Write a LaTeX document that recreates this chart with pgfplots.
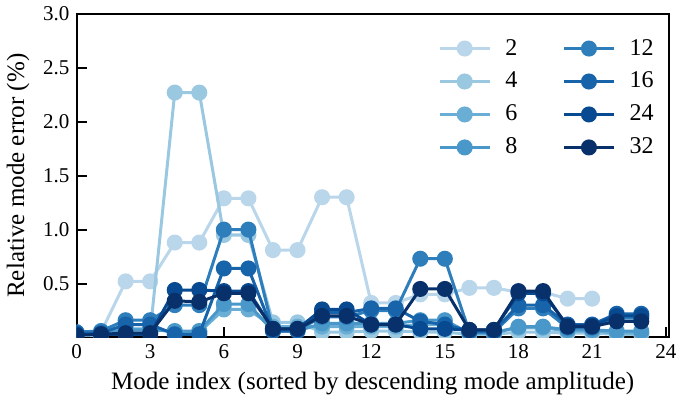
\documentclass[border=0pt]{standalone}
\usepackage{fontspec}
\setmainfont{Liberation Serif}
\usepackage{pgfplots}
\usepackage{pgfplotstable}
\pgfplotsset{compat=1.18}

\definecolor{b2}{HTML}{BAD6EB}
\definecolor{b4}{HTML}{9AC8E0}
\definecolor{b6}{HTML}{6AAED6}
\definecolor{b8}{HTML}{4A98C9}
\definecolor{b12}{HTML}{2E7EBC}
\definecolor{b16}{HTML}{1764AB}
\definecolor{b24}{HTML}{084A91}
\definecolor{b32}{HTML}{08306B}

% relative mode error (%) per mode index, one column per run
\pgfplotstableread{
i  s2    s4    s6    s8    s12   s16   s24   s32
0  0.04  0.02  0.03  0.03  0.05  0.04  0.03  0.02
1  0.05  0.02  0.03  0.03  0.06  0.04  0.03  0.03
2  0.52  0.05  0.08  0.07  0.16  0.12  0.03  0.04
3  0.52  0.05  0.08  0.07  0.16  0.12  0.03  0.04
4  0.88  2.27  0.05  0.06  0.30  0.03  0.44  0.34
5  0.88  2.27  0.05  0.06  0.30  0.03  0.44  0.33
6  1.29  0.95  0.26  0.31  1.00  0.64  0.43  0.41
7  1.29  0.95  0.26  0.31  1.00  0.64  0.43  0.41
8  0.81  0.14  0.10  0.06  0.07  0.06  0.08  0.08
9  0.81  0.14  0.10  0.06  0.07  0.06  0.08  0.08
10 1.30  0.05  0.10  0.13  0.19  0.23  0.26  0.20
11 1.30  0.05  0.10  0.13  0.19  0.23  0.26  0.20
12 0.32  0.06  0.10  0.13  0.25  0.27  0.12  0.12
13 0.32  0.06  0.10  0.13  0.25  0.27  0.12  0.12
14 0.40  0.05  0.12  0.16  0.73  0.15  0.08  0.45
15 0.40  0.05  0.12  0.16  0.73  0.12  0.08  0.45
16 0.46  0.03  0.05  0.04  0.05  0.06  0.07  0.07
17 0.46  0.03  0.05  0.04  0.05  0.06  0.07  0.07
18 0.42  0.05  0.09  0.10  0.27  0.30  0.41  0.43
19 0.42  0.05  0.09  0.10  0.27  0.30  0.41  0.43
20 0.36  0.04  0.06  0.07  0.09  0.12  0.11  0.10
21 0.36  0.04  0.06  0.07  0.09  0.12  0.11  0.10
22 nan   0.03  0.04  0.06  0.18  0.22  0.20  0.15
23 nan   0.03  0.04  0.06  0.18  0.22  0.20  0.15
}\errtable

\begin{document}
\begin{tikzpicture}
\begin{axis}[
    scale only axis,
    width=295.5pt, height=161.5pt,
    xmin=0, xmax=24.12, ymin=0, ymax=3.0,
    xtick={0,3,...,24},
    ytick={0.5,1.0,...,3.0},
    yticklabel style={/pgf/number format/.cd,fixed,fixed zerofill,precision=1},
    /pgf/number format/assume math mode=true,
    tick label style={font=\fontsize{10.5}{12}\selectfont},
    label style={font=\fontsize{12.5}{15}\selectfont},
    xlabel={Mode index (sorted by descending mode amplitude)},
    ylabel={Relative mode error (\%)},
    tick align=inside,
    xtick pos=bottom, ytick pos=left,
    major tick length=5pt,
    minor tick num=0,
    axis line style={line width=1pt},
    major tick style={line width=1pt, black},
    clip marker paths=true,
    every axis plot/.append style={line width=1.5pt, mark=*, mark size=3.25pt},
    legend columns=4,
    transpose legend,
    legend cell align=left,
    legend style={at={(rel axis cs:0.992,0.948)}, anchor=north east, draw=none, fill=none,
        font=\fontsize{12}{14}\selectfont, row sep=3pt,
        /tikz/every even column/.append style={column sep=20.5pt}},
    legend image code/.code={
        \draw[mark repeat=2,mark phase=2] plot coordinates {(0pt,0pt) (12.5pt,0pt) (25pt,0pt)};
    },
]
\addplot[b2, mark options={fill=b2, draw=b2}] table[x=i, y=s2] {\errtable};
\addplot[b4, mark options={fill=b4, draw=b4}] table[x=i, y=s4] {\errtable};
\addplot[b6, mark options={fill=b6, draw=b6}] table[x=i, y=s6] {\errtable};
\addplot[b8, mark options={fill=b8, draw=b8}] table[x=i, y=s8] {\errtable};
\addplot[b12, mark options={fill=b12, draw=b12}] table[x=i, y=s12] {\errtable};
\addplot[b16, mark options={fill=b16, draw=b16}] table[x=i, y=s16] {\errtable};
\addplot[b24, mark options={fill=b24, draw=b24}] table[x=i, y=s24] {\errtable};
\addplot[b32, mark options={fill=b32, draw=b32}] table[x=i, y=s32] {\errtable};
\legend{\hspace*{5pt}2,\hspace*{5pt}4,\hspace*{5pt}6,\hspace*{5pt}8,
        \hspace*{5pt}12,\hspace*{5pt}16,\hspace*{5pt}24,\hspace*{5pt}32}
\end{axis}
\end{tikzpicture}
\end{document}
